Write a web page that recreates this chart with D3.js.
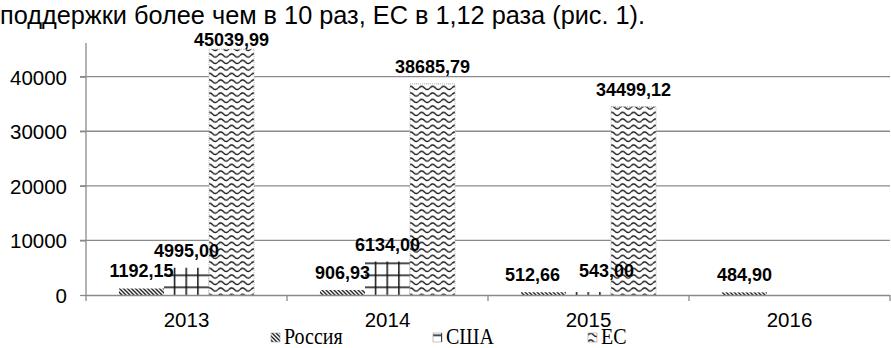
<!DOCTYPE html>
<html>
<head>
<meta charset="utf-8">
<script src="https://cdn.jsdelivr.net/npm/d3@7"></script>
<style>
  body { margin: 0; background: #fff; }
  svg { display: block; }
</style>
</head>
<body>
<div id="chart"></div>
<script>
const years = ["2013", "2014", "2015", "2016"];
const seriesNames = ["Россия", "США", "ЕС"];
const russia = [1192.15, 906.93, 512.66, 484.90];
const usa = [4995.00, 6134.00, 543.00, null];
const eu = [45039.99, 38685.79, 34499.12, null];
const yTicks = [0, 10000, 20000, 30000, 40000];
const headText = "поддержки более чем в 10 раз, ЕС в 1,12 раза (рис. 1).";

const W = 891, H = 348;
const plotLeft = 86, plotRight = 890, plotTop = 43, plotBottom = 295;

const svg = d3.select("#chart").append("svg")
    .attr("width", W)
    .attr("height", H);

const defs = svg.append("defs");

// diagonal hatch
const hatch = defs.append("pattern")
    .attr("id", "pRus")
    .attr("patternUnits", "userSpaceOnUse")
    .attr("width", 4).attr("height", 4);
hatch.append("rect").attr("width", 4).attr("height", 4).attr("fill", "#fff");
hatch.append("path")
    .attr("d", "M0,0 L4,4 M-1,3 L1,5 M3,-1 L5,1")
    .attr("stroke", "#222").attr("stroke-width", 1.4);

// large grid
const grid = defs.append("pattern")
    .attr("id", "pUsa")
    .attr("patternUnits", "userSpaceOnUse")
    .attr("width", 11.7).attr("height", 12)
    .attr("x", 8).attr("y", 10.5);
grid.append("rect").attr("width", 11.7).attr("height", 12).attr("fill", "#fff");
grid.append("path")
    .attr("d", "M0,0.75 H11.7 M0.75,0 V12")
    .attr("stroke", "#111").attr("stroke-width", 1.5);

// waves
const wave = defs.append("pattern")
    .attr("id", "pEu")
    .attr("patternUnits", "userSpaceOnUse")
    .attr("width", 11).attr("height", 6.5);
wave.append("rect").attr("width", 11).attr("height", 6.5).attr("fill", "#fff");
wave.append("path")
    .attr("d", "M0,3.5 Q2.75,0.2 5.5,3.5 T11,3.5")
    .attr("fill", "none")
    .attr("stroke", "#111").attr("stroke-width", 1.3);

const fills = ["url(#pRus)", "url(#pUsa)", "url(#pEu)"];

// heading line of text above the figure
svg.append("text")
    .attr("x", 0)
    .attr("y", 24)
    .style("font-family", "Liberation Sans, Arial, sans-serif")
    .style("font-size", "25.3px")
    .style("fill", "#000")
    .text(headText);

const x0 = d3.scaleBand()
    .domain(years)
    .range([plotLeft, plotRight])
    .paddingInner(0.328)
    .paddingOuter(0.164);

const x1 = d3.scaleBand()
    .domain(seriesNames)
    .range([0, x0.bandwidth()]);

const y = d3.scaleLinear()
    .domain([0, 46170])
    .range([plotBottom, plotTop]);

const gridColor = "#8a8a8a";

// gridlines
svg.append("g")
    .selectAll("line")
    .data(yTicks.slice(1))
    .enter().append("line")
    .attr("x1", plotLeft - 6).attr("x2", plotRight)
    .attr("y1", d => y(d)).attr("y2", d => y(d))
    .attr("stroke", gridColor).attr("stroke-width", 1.3);

// y axis
const yAxis = d3.axisLeft(y).tickValues(yTicks).tickSize(6).tickPadding(13).tickFormat(d3.format("d"));
const gy = svg.append("g")
    .attr("transform", `translate(${plotLeft},0)`)
    .call(yAxis);
gy.select(".domain").remove();
gy.selectAll(".tick line").attr("stroke", gridColor).attr("stroke-width", 1.3);
gy.selectAll("text")
    .style("font-family", "Liberation Sans, Arial, sans-serif")
    .style("font-size", "20.5px")
    .attr("fill", "#000")
    .attr("dy", "0.36em");
svg.append("line")
    .attr("x1", plotLeft).attr("x2", plotLeft)
    .attr("y1", plotTop).attr("y2", plotBottom + 6)
    .attr("stroke", gridColor).attr("stroke-width", 1.3);

// bars
const table = years.map((yr, i) => ({
    year: yr,
    values: [russia[i], usa[i], eu[i]]
}));

const groups = svg.append("g")
    .selectAll("g")
    .data(table)
    .enter().append("g")
    .attr("transform", d => `translate(${x0(d.year)},0)`);

groups.selectAll("rect")
    .data(d => d.values.map((v, k) => ({ name: seriesNames[k], k, v })).filter(e => e.v != null))
    .enter().append("rect")
    .attr("x", d => x1(d.name))
    .attr("y", d => y(d.v))
    .attr("width", x1.bandwidth())
    .attr("height", d => plotBottom - y(d.v))
    .attr("fill", d => fills[d.k])
    .attr("stroke", d => d.k == 2 ? "#b5b5b5" : "none")
    .attr("stroke-width", 1)
    .attr("stroke-dasharray", "1,1");

// x axis
const xAxis = d3.axisBottom(x0).tickSize(0).tickPadding(17);
const gx = svg.append("g")
    .attr("transform", `translate(0,${plotBottom})`)
    .call(xAxis);
gx.select(".domain").attr("stroke", gridColor).attr("stroke-width", 1.3)
    .attr("d", `M${plotLeft},0.5H${plotRight}`);
gx.selectAll("text")
    .style("font-family", "Liberation Sans, Arial, sans-serif")
    .style("font-size", "20.5px")
    .attr("fill", "#000");
svg.append("g")
    .selectAll("line")
    .data(years)
    .enter().append("line")
    .attr("x1", d => x0(d) + x0.bandwidth() / 2 + x0.step() / 2)
    .attr("x2", d => x0(d) + x0.bandwidth() / 2 + x0.step() / 2)
    .attr("y1", plotBottom).attr("y2", plotBottom + 6)
    .attr("stroke", gridColor).attr("stroke-width", 1.3);

// value labels (Excel shifted two overlapping labels in 2015)
const fmt = v => v.toFixed(2).replace(".", ",");
const nudge = { "2015-0": [-11, 0], "2015-1": [18, -4] };

groups.selectAll(".lbl")
    .data(d => d.values.map((v, k) => ({ year: d.year, name: seriesNames[k], k, v })).filter(e => e.v != null))
    .enter().append("text")
    .attr("class", "lbl")
    .attr("x", d => x1(d.name) + x1.bandwidth() / 2 + (nudge[d.year + "-" + d.k] || [0, 0])[0])
    .attr("y", d => Math.max(46, y(d.v) - 11) + (nudge[d.year + "-" + d.k] || [0, 0])[1])
    .attr("text-anchor", "middle")
    .style("font-family", "Liberation Sans, Arial, sans-serif")
    .style("font-size", "18px")
    .style("font-weight", "bold")
    .style("fill", "#000")
    .text(d => fmt(d.v));

// legend
const legendX = [271, 433, 588];
const lg = svg.append("g")
    .selectAll("g")
    .data(seriesNames)
    .enter().append("g")
    .attr("transform", (d, i) => `translate(${legendX[i]},0)`);
lg.append("rect")
    .attr("x", 0).attr("y", 333)
    .attr("width", 9).attr("height", 9)
    .attr("fill", (d, i) => fills[i])
    .attr("stroke", "#999").attr("stroke-width", 0.6);
lg.append("text")
    .attr("x", 13)
    .attr("y", 0)
    .attr("transform", "translate(0,344) scale(1,1.12)")
    .style("font-family", "Liberation Serif, Times New Roman, serif")
    .style("font-size", "20px")
    .style("fill", "#000")
    .text(d => d);
</script>
</body>
</html>
